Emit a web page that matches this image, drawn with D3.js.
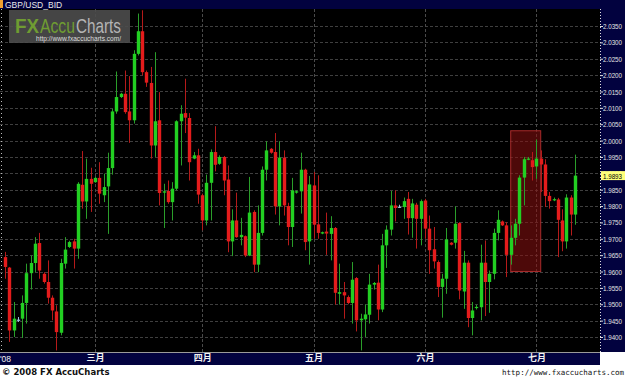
<!DOCTYPE html>
<html>
<head>
<meta charset="utf-8">
<script src="https://cdn.jsdelivr.net/npm/d3@7"></script>
<style>
  html, body { margin: 0; padding: 0; background: #fff; }
  svg { display: block; }
</style>
</head>
<body>
<div id="chart"></div>
<script>
// GBP/USD daily candles (oldest first)
const open = [1.9644,1.9612,1.9420,1.9453,1.9456,1.9504,1.9595,1.9626,1.9687,1.9593,1.9568,1.9520,1.9478,1.9413,1.9624,1.9675,1.9692,1.9670,1.9865,1.9814,
  1.9883,1.9873,1.9886,1.9833,1.9860,1.9916,2.0089,2.0133,2.0143,2.0089,2.0062,2.0265,2.0334,2.0209,2.0176,1.9985,2.0062,1.9841,1.9846,1.9812,
  1.9853,2.0059,2.0084,2.0069,1.9945,1.9955,1.9833,1.9756,1.9871,1.9965,1.9929,1.9950,1.9881,1.9692,1.9756,1.9705,1.9708,1.9649,1.9782,1.9621,
  1.9718,1.9911,1.9975,1.9965,1.9799,1.9948,1.9800,1.9736,1.9841,1.9845,1.9911,1.9692,1.9863,1.9744,1.9716,1.9722,1.9715,1.9733,1.9532,1.9537,
  1.9522,1.9504,1.9580,1.9451,1.9454,1.9468,1.9560,1.9566,1.9484,1.9680,1.9728,1.9802,1.9798,1.9797,1.9822,1.9763,1.9804,1.9761,1.9817,1.9731,
  1.9668,1.9629,1.9553,1.9578,1.9688,1.9688,1.9748,1.9539,1.9627,1.9458,1.9490,1.9491,1.9627,1.9568,1.9593,1.9718,1.9753,1.9741,1.9651,1.9703,
  1.9746,1.9887,1.9943,1.9940,1.9921,1.9945,1.9927,1.9831,1.9819,1.9820,1.9756,1.9692,1.9826,1.9774];
const high = [1.9660,1.9614,1.9507,1.9461,1.9527,1.9624,1.9649,1.9705,1.9718,1.9598,1.9634,1.9527,1.9497,1.9639,1.9705,1.9694,1.9700,1.9873,1.9968,1.9945,
  1.9917,1.9889,1.9934,1.9899,1.9963,2.0097,2.0211,2.0146,2.0214,2.0197,2.0276,2.0388,2.0398,2.0214,2.0225,2.0270,2.0148,1.9868,1.9878,1.9873,
  2.0062,2.0108,2.0189,2.0084,1.9965,1.9975,1.9838,1.9896,1.9973,2.0044,1.9955,1.9953,1.9924,1.9790,1.9841,1.9764,1.9710,1.9889,1.9787,1.9802,
  1.9921,1.9998,1.9977,2.0023,1.9998,1.9970,1.9810,1.9886,1.9848,1.9963,1.9914,1.9892,1.9904,1.9894,1.9722,1.9780,1.9769,1.9736,1.9624,1.9568,
  1.9527,1.9629,1.9583,1.9471,1.9499,1.9593,1.9568,1.9621,1.9715,1.9741,1.9846,1.9848,1.9804,1.9826,1.9843,1.9822,1.9810,1.9820,1.9822,1.9771,
  1.9736,1.9634,1.9593,1.9733,1.9690,1.9799,1.9751,1.9663,1.9634,1.9507,1.9499,1.9682,1.9695,1.9603,1.9731,1.9787,1.9756,1.9751,1.9741,1.9761,
  1.9894,1.9950,1.9950,1.9965,2.0003,1.9970,1.9943,1.9843,1.9826,1.9825,1.9790,1.9836,1.9833,1.9957];
const low = [1.9578,1.9385,1.9400,1.9446,1.9397,1.9441,1.9545,1.9598,1.9578,1.9563,1.9502,1.9451,1.9359,1.9405,1.9609,1.9672,1.9609,1.9639,1.9792,1.9761,
  1.9782,1.9871,1.9807,1.9812,1.9715,1.9896,2.0082,2.0130,2.0082,1.9993,2.0052,2.0260,2.0199,2.0164,1.9945,1.9950,1.9802,1.9733,1.9807,1.9756,
  1.9848,1.9924,2.0023,1.9878,1.9943,1.9807,1.9726,1.9741,1.9756,1.9906,1.9926,1.9833,1.9659,1.9647,1.9703,1.9680,1.9644,1.9647,1.9598,1.9598,
  1.9710,1.9878,1.9960,1.9774,1.9741,1.9771,1.9680,1.9675,1.9838,1.9777,1.9665,1.9621,1.9700,1.9700,1.9714,1.9651,1.9634,1.9499,1.9499,1.9456,
  1.9500,1.9441,1.9417,1.9359,1.9400,1.9441,1.9545,1.9451,1.9476,1.9611,1.9710,1.9753,1.9794,1.9761,1.9713,1.9703,1.9670,1.9680,1.9700,1.9593,
  1.9609,1.9522,1.9459,1.9532,1.9680,1.9670,1.9515,1.9486,1.9430,1.9405,1.9484,1.9451,1.9464,1.9474,1.9576,1.9695,1.9739,1.9583,1.9621,1.9680,
  1.9710,1.9802,1.9940,1.9878,1.9883,1.9843,1.9797,1.9792,1.9815,1.9644,1.9662,1.9670,1.9710,1.9743];
const close = [1.9614,1.9420,1.9456,1.9453,1.9504,1.9595,1.9626,1.9685,1.9603,1.9568,1.9520,1.9481,1.9415,1.9626,1.9667,1.9690,1.9670,1.9868,1.9814,1.9883,
  1.9868,1.9886,1.9838,1.9858,1.9916,2.0089,2.0133,2.0143,2.0087,2.0062,2.0265,2.0334,2.0209,2.0177,1.9985,2.0059,1.9840,1.9845,1.9812,1.9853,
  2.0059,2.0082,2.0070,1.9934,1.9955,1.9835,1.9756,1.9871,1.9965,1.9926,1.9950,1.9878,1.9692,1.9756,1.9705,1.9712,1.9649,1.9780,1.9621,1.9718,
  1.9911,1.9970,1.9963,1.9799,1.9948,1.9802,1.9736,1.9848,1.9845,1.9911,1.9690,1.9866,1.9743,1.9718,1.9720,1.9716,1.9733,1.9535,1.9537,1.9527,
  1.9504,1.9575,1.9451,1.9456,1.9469,1.9560,1.9565,1.9484,1.9680,1.9728,1.9802,1.9794,1.9798,1.9815,1.9763,1.9808,1.9761,1.9815,1.9731,1.9665,
  1.9631,1.9553,1.9578,1.9698,1.9682,1.9746,1.9542,1.9627,1.9458,1.9481,1.9492,1.9627,1.9568,1.9593,1.9718,1.9758,1.9741,1.9651,1.9703,1.9746,
  1.9887,1.9943,1.9945,1.9919,1.9945,1.9927,1.9831,1.9815,1.9821,1.9758,1.9692,1.9826,1.9774,1.9893];

// price axis ticks
const yTicks = [1.9400,1.9450,1.9500,1.9550,1.9600,1.9650,1.9700,1.9750,1.9800,1.9850,1.9900,
  1.9950,2.0000,2.0050,2.0100,2.0150,2.0200,2.0250,2.0300,2.0350];

// month starts (candle index) and their labels
const monthIdx = [21, 46, 72, 98, 124];
const monthNames = ['三月', '四月', '五月', '六月', '七月'];
const yearLabel = "'08";

// the boxed stretch of candles and its price range
const boxIdx = [118, 125];
const boxPrice = [1.9600, 2.0030];

const W = 625, H = 377;
const plotL = 0, plotR = 600, plotT = 9, plotB = 352;
const NAVY = '#02023f';
const UP = '#22cf22', DOWN = '#e41c1c';
const UP_WICK = '#2a9e2a', DOWN_WICK = '#b51a1a', DOJI = '#9cc0dc';
const FONT = 'Liberation Sans, Arial, sans-serif';

const candles = open.map((o, i) => ({ i, o, h: high[i], l: low[i], c: close[i] }));

const x = d3.scaleLinear().domain([0, candles.length - 1]).range([5, 575]);
const y = d3.scaleLinear().domain([1.9400, 2.0350]).range([337, 26]);

const svg = d3.select('#chart').append('svg')
  .attr('width', W).attr('height', H)
  .style('background', '#fff');

// frame pieces
svg.append('rect').attr('x', 0).attr('y', 0).attr('width', W).attr('height', plotT).attr('fill', NAVY);
svg.append('rect').attr('x', plotL).attr('y', plotT).attr('width', plotR - plotL).attr('height', plotB - plotT).attr('fill', '#000');
svg.append('rect').attr('x', plotR).attr('y', 0).attr('width', W - plotR).attr('height', plotB).attr('fill', NAVY);
svg.append('rect').attr('x', 0).attr('y', plotB).attr('width', plotR).attr('height', 1.2).attr('fill', '#9a9a9a');
svg.append('rect').attr('x', 0).attr('y', plotB + 1).attr('width', plotR).attr('height', 12).attr('fill', NAVY);

// title
svg.append('rect').attr('x', 0).attr('y', 0).attr('width', 3).attr('height', 8).attr('fill', '#f0a030');
svg.append('text').attr('x', 5).attr('y', 7.5)
  .attr('font-family', FONT).attr('font-size', 8.5)
  .attr('fill', '#e8e8e8').text('GBP/USD_BID');

const plot = svg.append('g');
plot.append('clipPath').attr('id', 'clip')
  .append('rect').attr('x', plotL).attr('y', plotT).attr('width', plotR - plotL).attr('height', plotB - plotT);
const inner = plot.append('g').attr('clip-path', 'url(#clip)');

// grid
inner.append('g').selectAll('line').data(yTicks).join('line')
  .attr('x1', plotL).attr('x2', plotR)
  .attr('y1', d => Math.round(y(d)) + 0.5).attr('y2', d => Math.round(y(d)) + 0.5)
  .attr('stroke', '#3f3f3f').attr('stroke-dasharray', '3,2');
inner.append('g').selectAll('line').data(monthIdx).join('line')
  .attr('x1', d => Math.round(x(d)) + 0.5).attr('x2', d => Math.round(x(d)) + 0.5)
  .attr('y1', plotT).attr('y2', plotB)
  .attr('stroke', '#4a4a4a').attr('stroke-dasharray', '3,2');
inner.append('line').attr('x1', 1.5).attr('x2', 1.5).attr('y1', plotT).attr('y2', plotB)
  .attr('stroke', '#bbb').attr('stroke-dasharray', '1,3');

// highlight box
inner.append('rect')
  .attr('x', x(boxIdx[0])).attr('width', x(boxIdx[1]) - x(boxIdx[0]))
  .attr('y', y(boxPrice[1])).attr('height', y(boxPrice[0]) - y(boxPrice[1]))
  .attr('fill', 'rgba(140,16,16,0.55)').attr('stroke', '#a82a2a').attr('stroke-width', 1);

// candles
const bw = 3.4;
const cg = inner.append('g').selectAll('g').data(candles).join('g');
cg.append('line')
  .attr('x1', d => Math.round(x(d.i)) + 0.5).attr('x2', d => Math.round(x(d.i)) + 0.5)
  .attr('y1', d => y(d.h)).attr('y2', d => y(d.l))
  .attr('stroke', d => d.c > d.o ? UP_WICK : d.c < d.o ? DOWN_WICK : DOJI)
  .attr('stroke-width', 1);
cg.append('rect')
  .attr('x', d => Math.round(x(d.i)) + 0.5 - bw / 2)
  .attr('width', bw)
  .attr('y', d => y(Math.max(d.o, d.c)))
  .attr('height', d => Math.max(1.2, Math.abs(y(d.o) - y(d.c))))
  .attr('fill', d => d.c > d.o ? UP : d.c < d.o ? DOWN : DOJI);

// logo
const logo = svg.append('g');
logo.append('rect').attr('x', 9).attr('y', 10).attr('width', 121).attr('height', 33)
  .attr('fill', '#4c4c4c').attr('opacity', 0.9);
const logoParts = [
  { t: 'FX', x: 15, w: 24, fill: '#6f9c32', bold: true },
  { t: 'Accu', x: 40, w: 35, fill: '#6f9c32', bold: false },
  { t: 'Charts', x: 76, w: 45, fill: '#b4b4b4', bold: false }
];
logo.selectAll('text.part').data(logoParts).join('text').attr('class', 'part')
  .attr('x', d => d.x).attr('y', 33)
  .attr('font-family', FONT).attr('font-size', 21)
  .attr('font-weight', d => d.bold ? 'bold' : 'normal')
  .attr('textLength', d => d.w).attr('lengthAdjust', 'spacingAndGlyphs')
  .attr('fill', d => d.fill).text(d => d.t);
logo.append('text').attr('x', 36).attr('y', 41)
  .attr('font-family', FONT).attr('font-size', 7.5)
  .attr('textLength', 85).attr('lengthAdjust', 'spacingAndGlyphs')
  .attr('fill', '#dcdcdc').text('http://www.fxaccucharts.com/');

// right price axis
const yAxis = d3.axisRight(y).tickValues(yTicks).tickFormat(d3.format('.4f'))
  .tickSize(3).tickPadding(0);
const ya = svg.append('g').attr('transform', `translate(${plotR},0)`).call(yAxis);
ya.select('.domain').remove();
ya.selectAll('.tick line').attr('stroke', '#ddd');
ya.selectAll('.tick text')
  .attr('fill', '#e4e4e4').attr('font-size', 8)
  .attr('font-family', FONT)
  .attr('textLength', 19).attr('lengthAdjust', 'spacingAndGlyphs');
svg.append('line').attr('x1', plotR + 0.5).attr('x2', plotR + 0.5).attr('y1', plotT).attr('y2', plotB)
  .attr('stroke', '#ddd').attr('stroke-dasharray', '1,2');

// last price tag
const last = candles[candles.length - 1].c;
svg.append('rect').attr('x', plotR + 1).attr('y', y(last) - 4.5).attr('width', W - plotR - 1).attr('height', 9)
  .attr('fill', '#ffff7a');
svg.append('text').attr('x', plotR + 3).attr('y', y(last) + 3)
  .attr('font-family', FONT).attr('font-size', 8)
  .attr('textLength', 19).attr('lengthAdjust', 'spacingAndGlyphs')
  .attr('fill', '#000').text(d3.format('.4f')(last));

// bottom month axis
const xAxis = d3.axisBottom(x).tickValues(monthIdx).tickFormat((d, i) => monthNames[i])
  .tickSize(0).tickPadding(2);
const xa = svg.append('g').attr('transform', `translate(0,${plotB + 1})`).call(xAxis);
xa.select('.domain').remove();
xa.selectAll('.tick text')
  .attr('fill', '#f2f2f2').attr('font-size', 9).attr('font-weight', 'bold')
  .attr('font-family', 'Noto Sans CJK SC, sans-serif');
svg.append('text').attr('x', 0).attr('y', plotB + 10)
  .attr('font-family', FONT).attr('font-size', 8.5)
  .attr('fill', '#f2f2f2').text(yearLabel);

// footer
svg.append('text').attr('x', 2).attr('y', 375)
  .attr('font-family', 'DejaVu Sans, sans-serif').attr('font-size', 8.5).attr('font-weight', 'bold')
  .attr('fill', '#111').text('© 2008 FX AccuCharts');
svg.append('text').attr('x', 624).attr('y', 375).attr('text-anchor', 'end')
  .attr('font-family', 'DejaVu Sans Mono, monospace').attr('font-size', 7.5)
  .attr('fill', '#111').text('http://www.fxaccucharts.com');
</script>
</body>
</html>
